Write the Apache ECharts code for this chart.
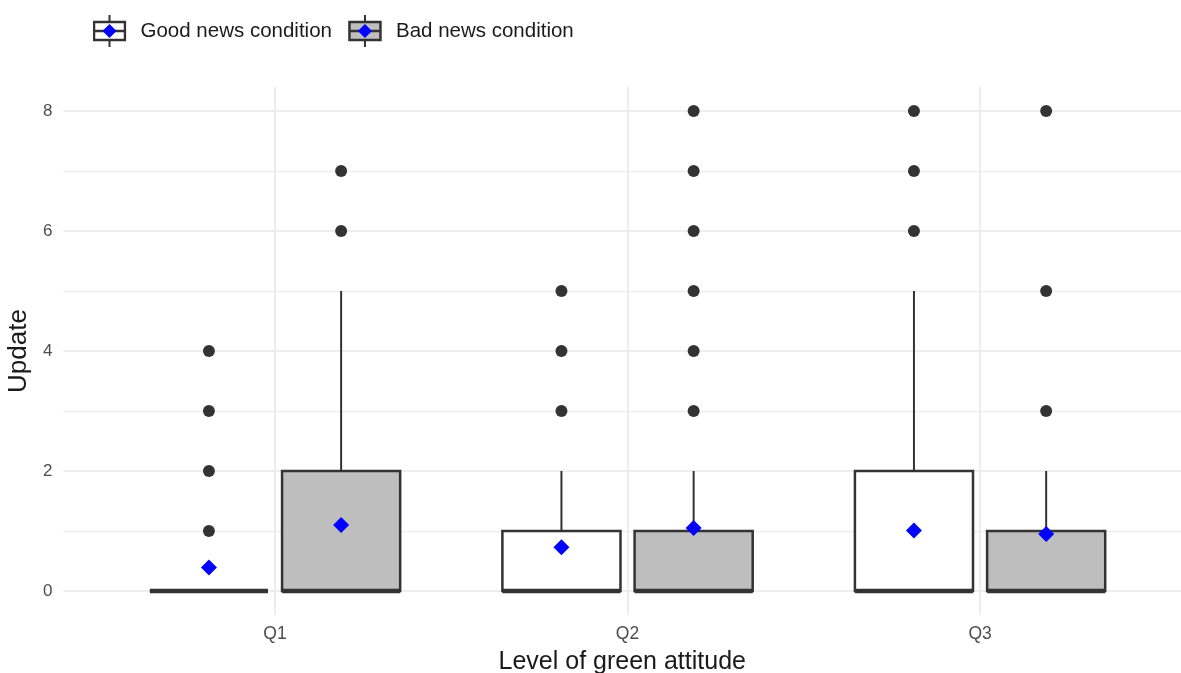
<!DOCTYPE html>
<html>
<head>
<meta charset="utf-8">
<script src="https://cdn.jsdelivr.net/npm/echarts@6/dist/echarts.min.js"></script>
<style>html,body{margin:0;padding:0;background:#fff;}#chart{width:1181px;height:673px;}</style>
</head>
<body>
<div id="chart"></div>
<script>
// ---- data ----
const categories = ['Q1', 'Q2', 'Q3'];
const seriesNames = ['Good news condition', 'Bad news condition'];
// [lower whisker, Q1, median, Q3, upper whisker]
const goodStats = [[0, 0, 0, 0, 0], [0, 0, 0, 1, 2], [0, 0, 0, 2, 5]];
const badStats = [[0, 0, 0, 2, 5], [0, 0, 0, 1, 2], [0, 0, 0, 1, 2]];
const goodMeans = [0.39, 0.73, 1.01];
const badMeans = [1.10, 1.05, 0.95];
// [category index, value]
const goodOutliers = [[0, 1], [0, 2], [0, 3], [0, 4], [1, 3], [1, 4], [1, 5], [2, 6], [2, 7], [2, 8]];
const badOutliers = [[0, 6], [0, 7], [1, 3], [1, 4], [1, 5], [1, 6], [1, 7], [1, 8], [2, 3], [2, 5], [2, 8]];
const yTicks = [0, 2, 4, 6, 8];
const yMinorTicks = [1, 3, 5, 7];

// ---- layout constants ----
const DODGE = 0.1875;
const BOX_W = 0.335;
const FONT = '"Liberation Sans", Arial, Helvetica, sans-serif';
const fills = ['#ffffff', '#bebebe'];

function legendIcon(fill) {
  const svg = "<svg xmlns='http://www.w3.org/2000/svg' width='34' height='32'>" +
    "<line x1='17' y1='0' x2='17' y2='32' stroke='#333' stroke-width='2'/>" +
    "<rect x='1.5' y='7' width='31' height='18' fill='" + fill + "' stroke='#333' stroke-width='2.5'/>" +
    "<line x1='1.5' y1='16' x2='32.5' y2='16' stroke='#333' stroke-width='2.5'/>" +
    "<polygon points='17,9 24,16 17,23 10,16' fill='#0000ff'/></svg>";
  return 'image://data:image/svg+xml;charset=utf-8,' + encodeURIComponent(svg);
}

function boxSeries(name, stats, offset, fill) {
  return {
    name: name,
    type: 'custom',
    z: 2,
    data: stats.map((s, i) => [i + 1 + offset].concat(s)),
    renderItem: function (params, api) {
      const x = api.value(0);
      const lo = api.value(1), q1 = api.value(2), med = api.value(3), q3 = api.value(4), hi = api.value(5);
      const halfPx = api.size([BOX_W, 0])[0] / 2;
      const pQ1 = api.coord([x, q1]);
      const pQ3 = api.coord([x, q3]);
      const pLo = api.coord([x, lo]);
      const pHi = api.coord([x, hi]);
      const pMed = api.coord([x, med]);
      const cx = pQ1[0];
      const stroke = '#333333';
      return {
        type: 'group',
        children: [
          { type: 'line', shape: { x1: cx, y1: pQ3[1], x2: cx, y2: pHi[1] }, style: { stroke: stroke, lineWidth: 2 } },
          { type: 'line', shape: { x1: cx, y1: pQ1[1], x2: cx, y2: pLo[1] }, style: { stroke: stroke, lineWidth: 2 } },
          { type: 'rect', shape: { x: cx - halfPx, y: pQ3[1], width: halfPx * 2, height: pQ1[1] - pQ3[1] },
            style: { fill: fill, stroke: stroke, lineWidth: 2.5 } },
          { type: 'line', shape: { x1: cx - halfPx, y1: pMed[1], x2: cx + halfPx, y2: pMed[1] },
            style: { stroke: stroke, lineWidth: 4.5 } }
        ]
      };
    }
  };
}

const chart = echarts.init(document.getElementById('chart'), null, { renderer: 'canvas' });
const option = {
  backgroundColor: '#ffffff',
  animation: false,
  textStyle: { fontFamily: FONT },
  legend: {
    top: 15,
    left: 92.5,
    padding: 0,
    itemWidth: 34,
    itemHeight: 32,
    itemGap: 16,
    selectedMode: false,
    textStyle: { fontSize: 20.5, color: '#1a1a1a', fontFamily: FONT, padding: [0, 0, 0, 9] },
    data: [
      { name: seriesNames[0], icon: legendIcon(fills[0]) },
      { name: seriesNames[1], icon: legendIcon(fills[1]) }
    ]
  },
  grid: { left: 63.5, right: 0, top: 87, bottom: 58, containLabel: false, outerBoundsMode: 'none' },
  xAxis: {
    type: 'value',
    min: 0.4,
    max: 3.57,
    name: 'Level of green attitude',
    nameLocation: 'middle',
    nameGap: 34.5,
    nameTextStyle: { fontSize: 25, color: '#1a1a1a', fontFamily: FONT },
    axisLine: { show: false },
    axisTick: { show: false, customValues: [1, 2, 3] },
    axisLabel: {
      customValues: [1, 2, 3],
      formatter: v => categories[Math.round(v) - 1] || '',
      fontSize: 17.5, color: '#4d4d4d', margin: 10, fontFamily: FONT
    },
    splitLine: { show: true, lineStyle: { color: '#e9e9e9', width: 1.6 } }
  },
  yAxis: [{
    type: 'value',
    min: -0.4,
    max: 8.4,
    name: 'Update',
    nameLocation: 'middle',
    nameGap: 28,
    nameRotate: 90,
    nameTextStyle: { fontSize: 26, color: '#1a1a1a', fontFamily: FONT },
    axisLine: { show: false },
    axisTick: { show: false, customValues: yTicks },
    axisLabel: { customValues: yTicks, fontSize: 17, color: '#4d4d4d', margin: 11, fontFamily: FONT },
    splitLine: { show: true, lineStyle: { color: '#e9e9e9', width: 1.6 } }
  }, {
    type: 'value',
    min: -0.4,
    max: 8.4,
    position: 'left',
    axisLine: { show: false },
    axisTick: { show: false, customValues: yMinorTicks },
    axisLabel: { show: false, customValues: yMinorTicks },
    splitLine: { show: true, lineStyle: { color: '#efefef', width: 1.3 } }
  }],
  series: [
    boxSeries(seriesNames[0], goodStats, -DODGE, fills[0]),
    boxSeries(seriesNames[1], badStats, DODGE, fills[1]),
    {
      name: 'good-outliers', type: 'scatter', z: 3, symbol: 'circle', symbolSize: 12,
      itemStyle: { color: '#333333', opacity: 1 },
      data: goodOutliers.map(d => [d[0] + 1 - DODGE, d[1]])
    },
    {
      name: 'bad-outliers', type: 'scatter', z: 3, symbol: 'circle', symbolSize: 12,
      itemStyle: { color: '#333333', opacity: 1 },
      data: badOutliers.map(d => [d[0] + 1 + DODGE, d[1]])
    },
    {
      name: 'good-means', type: 'scatter', z: 4, symbol: 'diamond', symbolSize: [16, 16],
      itemStyle: { color: '#0000ff', opacity: 1 },
      data: goodMeans.map((m, i) => [i + 1 - DODGE, m])
    },
    {
      name: 'bad-means', type: 'scatter', z: 4, symbol: 'diamond', symbolSize: [16, 16],
      itemStyle: { color: '#0000ff', opacity: 1 },
      data: badMeans.map((m, i) => [i + 1 + DODGE, m])
    }
  ]
};
chart.setOption(option);
</script>
</body>
</html>
